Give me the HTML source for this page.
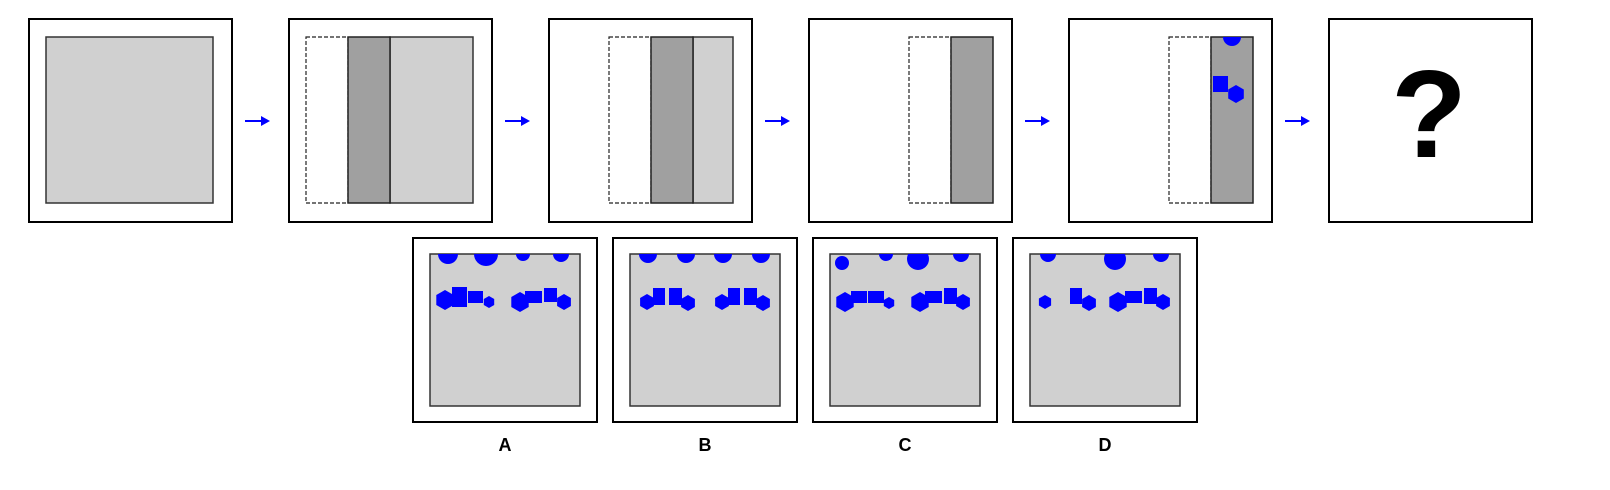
<!DOCTYPE html>
<html><head><meta charset="utf-8">
<style>
html,body{margin:0;padding:0;background:#fff;}
svg{display:block;}
text{font-family:"Liberation Sans",sans-serif;font-weight:bold;}
</style></head>
<body>
<svg id="s" width="1610" height="490" viewBox="0 0 1610 490" xmlns="http://www.w3.org/2000/svg">
<defs>
<clipPath id="cA"><rect x="430" y="254" width="150" height="152"/></clipPath>
<clipPath id="cB"><rect x="630" y="254" width="150" height="152"/></clipPath>
<clipPath id="cC"><rect x="830" y="254" width="150" height="152"/></clipPath>
<clipPath id="cD"><rect x="1030" y="254" width="150" height="152"/></clipPath>
<clipPath id="c5"><rect x="1211" y="37" width="42" height="166"/></clipPath>
</defs>
<g id="topg"></g>
<g id="opts"></g>
</svg>
<script>
const NS='http://www.w3.org/2000/svg';
function mk(tag,attrs,parent){const e=document.createElementNS(NS,tag);for(const k in attrs)e.setAttribute(k,attrs[k]);parent.appendChild(e);return e;}
function hexPts(cx,cy,r){let p=[];for(let k=0;k<6;k++){const a=(-90+60*k)*Math.PI/180;p.push((cx+r*Math.cos(a)).toFixed(1)+','+(cy+r*Math.sin(a)).toFixed(1));}return p.join(' ');}
const topG=document.getElementById('topg');
const panelX=[29,289,549,809,1069,1329];
panelX.forEach((x,i)=>{
  const o=mk('rect',{x:x,y:19,width:203,height:203,fill:'#fff',stroke:'#000','stroke-width':2},topG);
  
  
  const il=x+17,ir=x+184;
  if(i===0){const r=mk('rect',{x:il,y:37,width:167,height:166,fill:'#d0d0d0',stroke:'#333','stroke-width':1.5},topG);
    }
  if(i>=1&&i<=4){
    const off=[0,0,43,83,83][i];
    const dx=il+off;
    const d=mk('rect',{x:dx,y:37,width:42,height:166,fill:'#fff',stroke:'#222','stroke-width':1.2,'stroke-dasharray':'4,2'},topG);
    
    if(dx+84<ir){const l=mk('rect',{x:dx+84,y:37,width:ir-dx-84,height:166,fill:'#d0d0d0',stroke:'#333','stroke-width':1.5},topG);
      }
    const k=mk('rect',{x:dx+42,y:37,width:42,height:166,fill:'#a0a0a0',stroke:'#222','stroke-width':1.5},topG);
    
  }
  if(i===4){
    const c=mk('circle',{cx:1232,cy:37,r:9,fill:'#0000ff','clip-path':'url(#c5)'},topG);
    
    const s=mk('rect',{x:1213,y:76,width:15,height:16,fill:'#0000ff'},topG);
    
    const h=mk('polygon',{points:hexPts(1236,94,9),fill:'#0000ff'},topG);
    
  }
  if(i===5){const q=mk('text',{x:1429,y:157,'font-size':124,'text-anchor':'middle',fill:'#000'},topG);q.textContent='?';
    }
  if(i<5){
    const ax=x+216;
    const a=mk('line',{x1:ax,y1:121,x2:ax+18,y2:121,stroke:'#0000ff','stroke-width':2},topG);
    
    const ah=mk('polygon',{points:(ax+16)+',116 '+(ax+25)+',121 '+(ax+16)+',126',fill:'#0000ff'},topG);
    
  }
});
const optLetters=['A','B','C','D'];
const optCircles=[
 [[448,254,10],[486,254,12],[523,254,7],[561,254,8]],
 [[648,254,9],[686,254,9],[723,254,9],[761,254,9]],
 [[842,263,7],[886,254,7],[918,259,11],[961,254,8]],
 [[1048,254,8],[1115,259,11],[1161,254,8]]
];
const optHexes=[
 [[445,300,10],[489,302,6],[520,302,10],[564,302,8]],
 [[647,302,8],[688,303,8],[722,302,8],[763,303,8]],
 [[845,302,10],[889,303,6],[920,302,10],[963,302,8]],
 [[1045,302,7],[1089,303,8],[1118,302,10],[1163,302,8]]
];
const optRects=[
 [[452,287,15,20],[468,291,15,12],[525,291,17,12],[544,288,13,14]],
 [[653,288,12,17],[669,288,13,17],[728,288,12,17],[744,288,13,17]],
 [[851,291,16,12],[868,291,16,12],[925,291,17,12],[944,288,13,16]],
 [[1070,288,12,16],[1125,291,17,12],[1144,288,13,16]]
];
const opts=document.getElementById('opts');
optLetters.forEach((L,i)=>{
  const x=413+200*i;
  const g=mk('g',{},opts);
  
  
  const o=mk('rect',{x:x,y:238,width:184,height:184,fill:'#fff',stroke:'#000','stroke-width':2},g);
  
  const inn=mk('rect',{x:x+17,y:254,width:150,height:152,fill:'#d0d0d0',stroke:'#333','stroke-width':1.5},g);
  
  optCircles[i].forEach(c=>{const e=mk('circle',{cx:c[0],cy:c[1],r:c[2],fill:'#0000ff','clip-path':'url(#c'+L+')'},g);
    });
  optRects[i].forEach(r=>{const e=mk('rect',{x:r[0],y:r[1],width:r[2],height:r[3],fill:'#0000ff'},g);
    });
  optHexes[i].forEach(h=>{const e=mk('polygon',{points:hexPts(h[0],h[1],h[2]),fill:'#0000ff'},g);
    });
  const t=mk('text',{x:x+92,y:451,'font-size':18,'text-anchor':'middle',fill:'#000'},g);
  t.textContent=L;
  
  
});
</script>
</body></html>
